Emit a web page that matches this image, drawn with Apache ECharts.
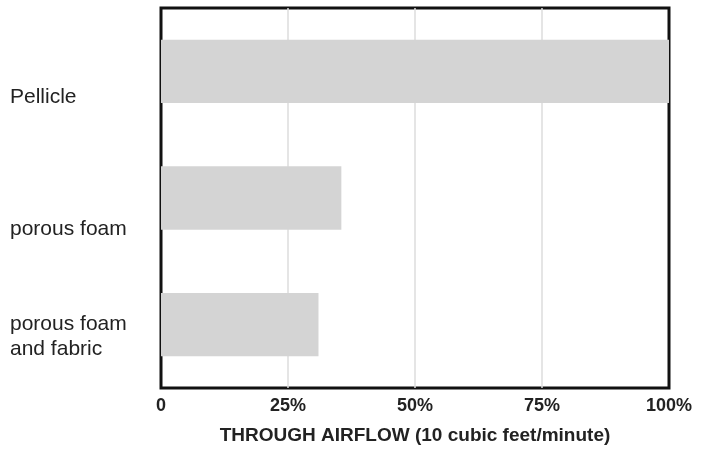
<!DOCTYPE html>
<html>
<head>
<meta charset="utf-8">
<script src="https://cdn.jsdelivr.net/npm/echarts@6/dist/echarts.min.js"></script>
<style>
html,body{margin:0;padding:0;background:#fff;}
#main{width:712px;height:449px;}
</style>
</head>
<body>
<div id="main"></div>
<script>
const categories = ['Pellicle', 'porous foam', 'porous foam\nand fabric'];
const airflowPct = [100, 35.5, 31];
const tickLabels = { 0: '0', 25: '25%', 50: '50%', 75: '75%', 100: '100%' };
const axisTitle = 'THROUGH AIRFLOW (10 cubic feet/minute)';

const chart = echarts.init(document.getElementById('main'), null, { renderer: 'canvas' });
function fmtCategory(v, i) {
  if (i === 0) return '{a|' + v + '}';
  if (i === 1) return '{b|' + v + '}';
  return '{e| }\n' + v.split('\n').map(s => '{c|' + s + '}').join('\n');
}
chart.setOption({
  animation: false,
  backgroundColor: '#fff',
  grid: {
    left: 161, right: 43, top: 8, bottom: 61,
    outerBoundsMode: 'none', containLabel: false,
    show: true, borderColor: '#111', borderWidth: 3, backgroundColor: 'transparent'
  },
  xAxis: {
    type: 'value', min: 0, max: 100, interval: 25,
    axisLine: { show: false }, axisTick: { show: false },
    splitLine: { show: true, lineStyle: { color: ['transparent', '#dcdcdc', '#dcdcdc', '#dcdcdc', 'transparent'], width: 1.5 } },
    axisLabel: {
      margin: 9,
      fontFamily: 'Liberation Sans, Arial, sans-serif',
      fontWeight: 'bold', fontSize: 18, color: '#222',
      formatter: v => tickLabels[v]
    },
    name: axisTitle, nameLocation: 'middle', nameGap: 38,
    nameTextStyle: {
      fontFamily: 'Liberation Sans, Arial, sans-serif',
      fontWeight: 'bold', fontSize: 19, color: '#222'
    }
  },
  yAxis: {
    type: 'category', data: categories, inverse: true,
    axisLine: { show: false }, axisTick: { show: false }, splitLine: { show: false },
    axisLabel: {
      align: 'left', margin: 151,
      fontFamily: 'Liberation Sans, Arial, sans-serif',
      fontSize: 21, color: '#222',
      formatter: fmtCategory,
      rich: {
        a: { fontSize: 21, color: '#222', padding: [52, 0, 0, 0] },
        b: { fontSize: 21, color: '#222', padding: [62, 0, 0, 0] },
        e: { fontSize: 21, color: '#222', lineHeight: 24 },
        c: { fontSize: 21, color: '#222', lineHeight: 25 }
      }
    }
  },
  series: [{
    type: 'bar', data: airflowPct, barCategoryGap: '50%',
    itemStyle: { color: '#d4d4d4' }
  }]
});
</script>
</body>
</html>
